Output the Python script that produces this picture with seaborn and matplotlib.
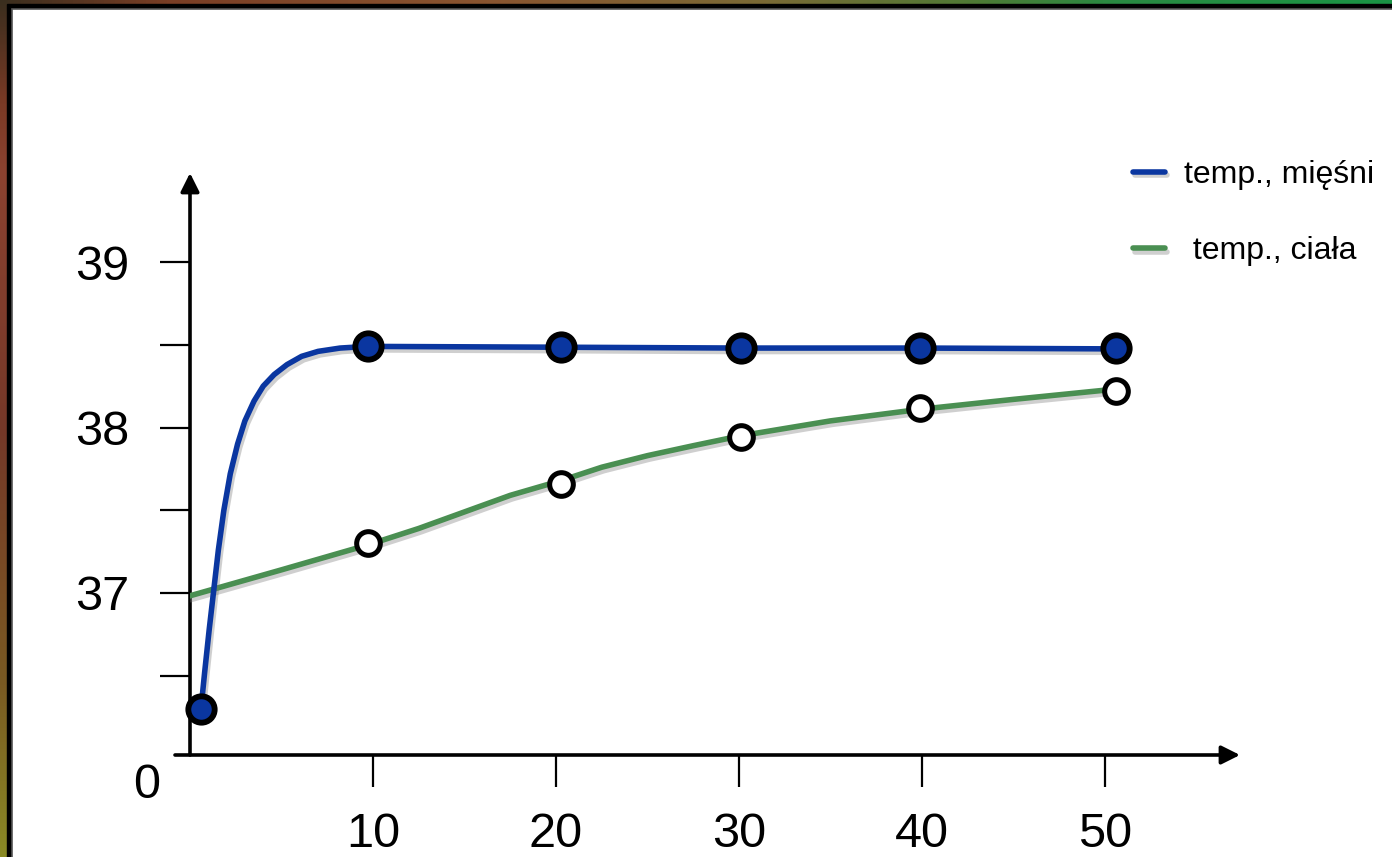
import numpy as np
import matplotlib
matplotlib.use("Agg")
import matplotlib.pyplot as plt
import matplotlib.patheffects as pe
from matplotlib.patches import Rectangle
from matplotlib.lines import Line2D
import seaborn as sns

sns.set_theme(style="white")
plt.rcParams['font.family'] = ['Liberation Sans', 'DejaVu Sans']

# ---------------- data ----------------
series_names = ["temp., mięśni", " temp., ciała"]
x_ticks = [10, 20, 30, 40, 50]
y_ticks = [37, 38, 39]
y_minor = [36.5, 37.5, 38.5]

# measured points
muscle_x = [0.6, 9.7, 20.3, 30.1, 39.9, 50.6]
muscle_y = [36.30, 38.49, 38.485, 38.48, 38.48, 38.48]
body_x = [9.7, 20.3, 30.1, 39.9, 50.6]
body_y = [37.30, 37.66, 37.94, 38.12, 38.22]

# trend lines
muscle_line_x = [0.6, 0.8, 1.05, 1.3, 1.55, 1.85, 2.2, 2.6, 3.0, 3.5, 4.0, 4.6, 5.3, 6.1, 7.0, 8.2, 9.7,
                 20.3, 30.1, 39.9, 50.6]
muscle_line_y = [36.30, 36.52, 36.78, 37.02, 37.26, 37.50, 37.72, 37.90, 38.04, 38.16, 38.25, 38.32,
                 38.38, 38.43, 38.46, 38.48, 38.49, 38.485, 38.48, 38.48, 38.475]
body_line_x = [-0.1, 5.0, 9.7, 12.5, 15.0, 17.5, 20.3, 22.5, 25.0, 27.5, 30.1, 35.0, 39.9, 45.0, 50.4]
body_line_y = [36.98, 37.14, 37.29, 37.39, 37.49, 37.59, 37.68, 37.76, 37.83, 37.89, 37.95, 38.04, 38.11,
               38.17, 38.23]

BLUE = "#0a36a0"
GREEN = "#4a8f52"

W, H = 1392, 857
fig = plt.figure(figsize=(W / 100, H / 100), dpi=100)

# ---------------- decorative frame ----------------
bg = fig.add_axes([0, 0, 1, 1], zorder=0)
bg.set_xlim(0, W)
bg.set_ylim(H, 0)
bg.axis("off")

def grad(stops, n):
    pos = [s[0] for s in stops]
    cols = np.array([matplotlib.colors.to_rgb(s[1]) for s in stops])
    t = np.linspace(0, 1, n)
    return np.stack([np.interp(t, pos, cols[:, i]) for i in range(3)], axis=-1)

top = grad([(0, "#3a2e1e"), (0.12, "#7a3e25"), (0.35, "#8a5530"), (0.55, "#7a6a35"),
            (0.7, "#4f7a35"), (0.8, "#2a8a42"), (1, "#1a9445")], 400)
left = grad([(0, "#3a2e1e"), (0.12, "#7a3a25"), (0.2, "#8b4230"), (0.5, "#753828"),
             (0.8, "#7a5a22"), (1, "#8a8a25")], 300)
bg.imshow(top[None, :, :], extent=(0, W, 5, 0), aspect="auto", zorder=0)
bg.imshow(left[:, None, :], extent=(0, 8, H, 0), aspect="auto", zorder=0)
bg.add_patch(Rectangle((7, 4), W, H, color="black", zorder=1))
bg.add_patch(Rectangle((12, 9), W, H, facecolor="white", edgecolor="#555555", lw=1.2, zorder=2))

# ---------------- main axes ----------------
px0, px1 = 190, 1240     # y-axis x pixel, x-arrow tip
py0, py1 = 755, 173      # x-axis y pixel, y-arrow tip
ax = fig.add_axes([px0 / W, 1 - py0 / H, (px1 - px0) / W, (py0 - py1) / H], zorder=1)
ax.patch.set_alpha(0)
sx = 18.3
sy = 165.5
ax.set_xlim(0, (px1 - px0) / sx)
ax.set_ylim(37 - (py0 - 593) / sy, 37 + (593 - py1) / sy)
for s in ax.spines.values():
    s.set_visible(False)
ax.grid(False)

# axes with arrows
ax.annotate("", xy=(1, 0), xytext=(-15 / (px1 - px0), 0), xycoords="axes fraction",
            arrowprops=dict(arrowstyle="-|>", lw=2.6, color="black", mutation_scale=28,
                            shrinkA=0, shrinkB=0), annotation_clip=False)
ax.annotate("", xy=(0, 1), xytext=(0, 0), xycoords="axes fraction",
            arrowprops=dict(arrowstyle="-|>", lw=2.6, color="black", mutation_scale=28,
                            shrinkA=0, shrinkB=0), annotation_clip=False)

shadow = [pe.SimpleLineShadow(offset=(1.5, -2.5), shadow_color="#777777", alpha=0.35), pe.Normal()]

sns.lineplot(x=body_line_x, y=body_line_y, sort=False, estimator=None, color=GREEN,
             linewidth=4.0, ax=ax, path_effects=shadow, zorder=3)
sns.lineplot(x=muscle_line_x, y=muscle_line_y, sort=False, estimator=None, color=BLUE,
             linewidth=4.0, ax=ax, path_effects=shadow, zorder=4)
sns.scatterplot(x=body_x, y=body_y, s=290, color="white", edgecolor="black",
                linewidth=3.6, ax=ax, zorder=5, clip_on=False)
sns.scatterplot(x=muscle_x, y=muscle_y, s=360, color=BLUE, edgecolor="black",
                linewidth=4.2, ax=ax, zorder=6, clip_on=False)

ax.set_xticks(x_ticks)
ax.set_xticklabels([str(v) for v in x_ticks])
ax.set_yticks(y_ticks)
ax.set_yticklabels([str(v) for v in y_ticks])
ax.set_yticks(y_minor, minor=True)
ax.tick_params(axis="both", which="both", direction="out", color="black", width=1.6,
               labelsize=35, labelcolor="black")
ax.tick_params(axis="y", which="both", length=21.5, pad=22, left=True)
ax.tick_params(axis="x", which="major", length=23, pad=18, bottom=True)
ax.set_xlabel("")
ax.set_ylabel("")

fig.text(147 / W, 1 - 785 / H, "0", fontsize=35, ha="center", va="center", color="black")

handles = [Line2D([], [], color=BLUE, lw=4, path_effects=shadow),
           Line2D([], [], color=GREEN, lw=4, path_effects=shadow)]
leg = fig.legend(handles, series_names, loc="upper left", bbox_to_anchor=(1133 / W, 1 - 160 / H),
                 frameon=False, fontsize=23, handlelength=1.0, handletextpad=0.6,
                 labelspacing=1.45, borderpad=0, borderaxespad=0)
for t in leg.get_texts():
    t.set_color("black")

fig.savefig("out.png", dpi=100)
